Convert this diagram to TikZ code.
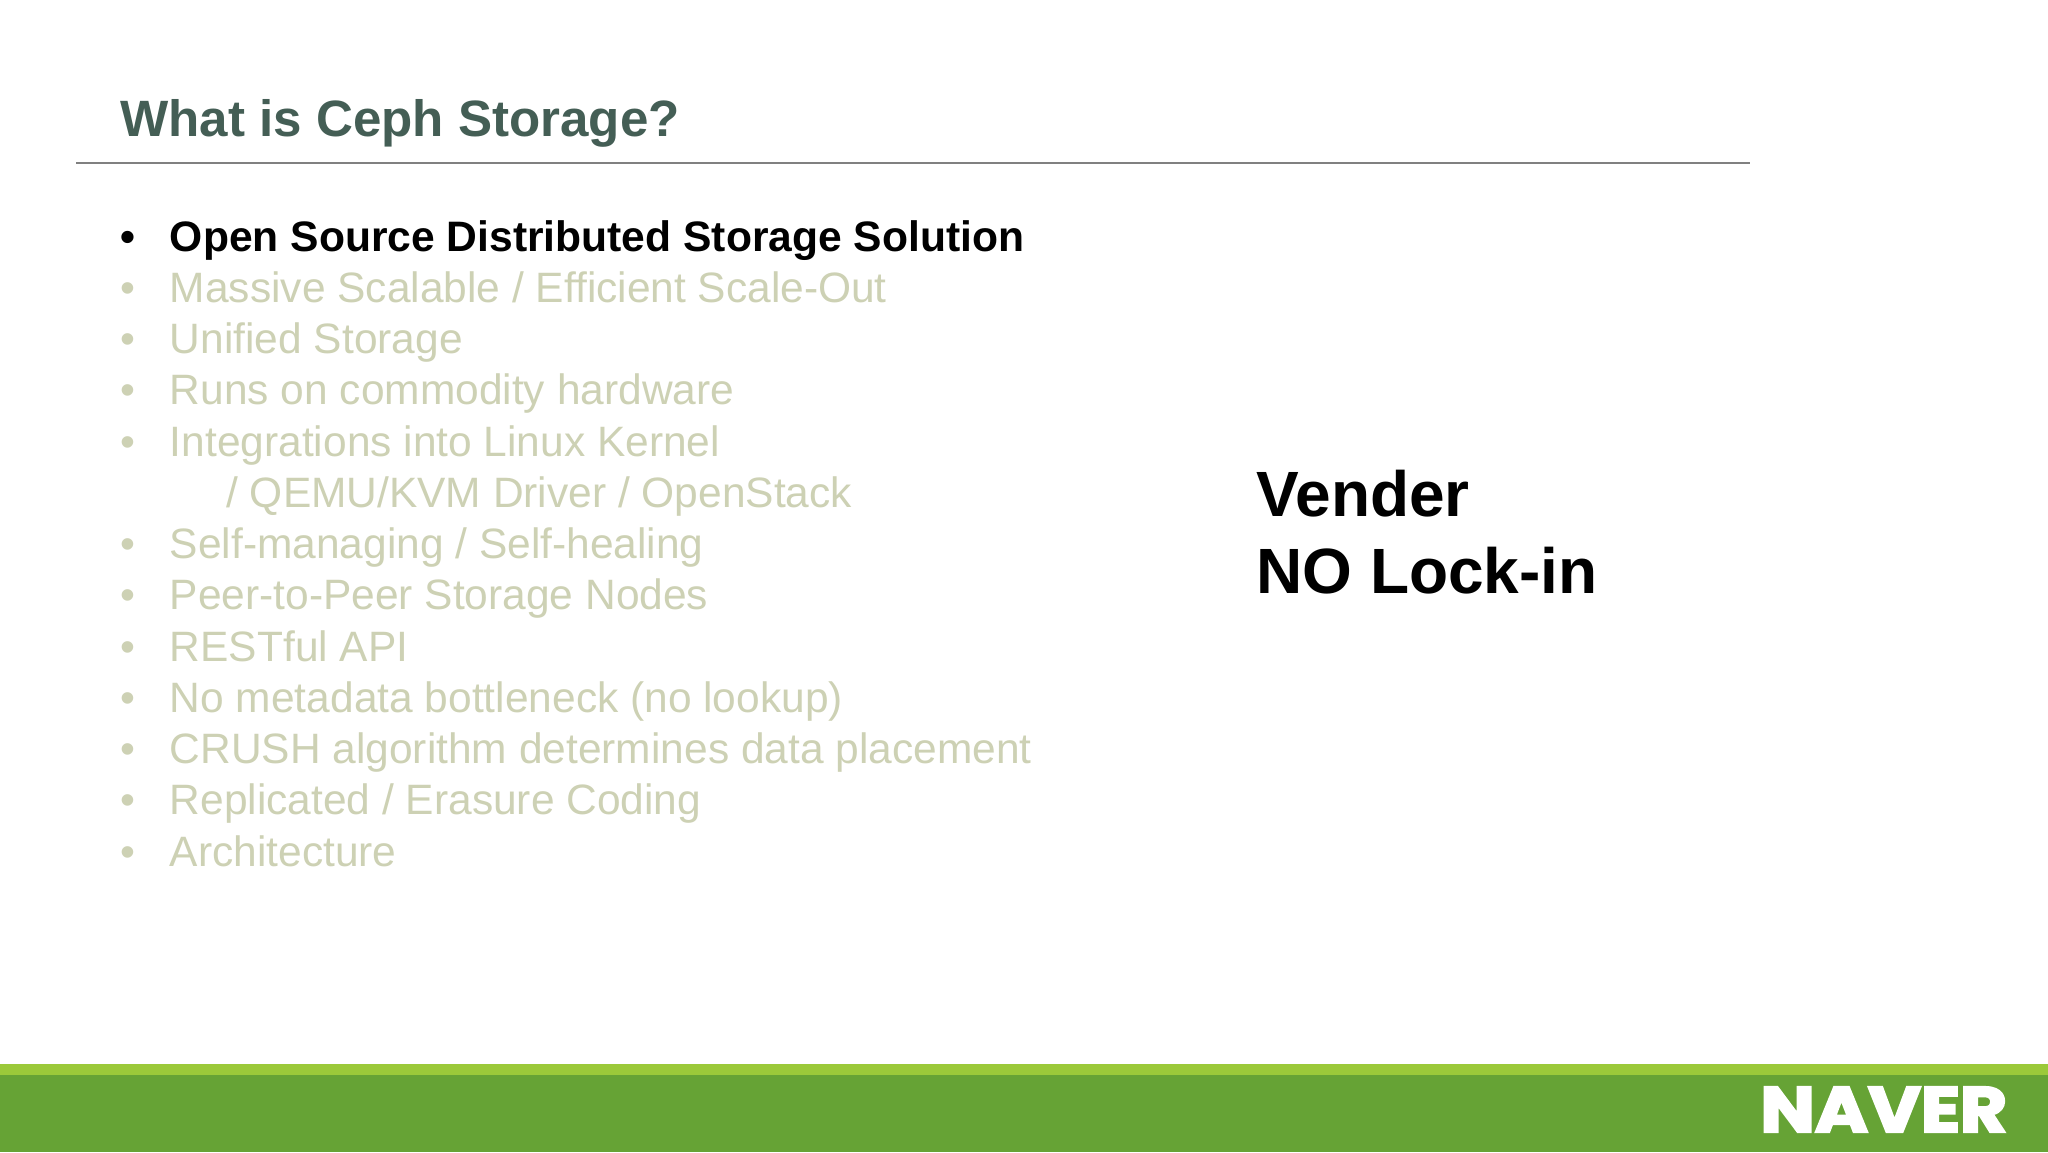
\documentclass[tikz,border=0pt]{standalone}
\usepackage{fontspec}
\setmainfont{Liberation Sans}
\newfontfamily\logofont[FakeBold=3.5]{Poppins}
\definecolor{titlecol}{HTML}{445E55}
\definecolor{fadecol}{HTML}{CDD1B4}
\definecolor{rulecol}{HTML}{808080}
\definecolor{barlight}{HTML}{9BC93A}
\definecolor{bardark}{HTML}{66A335}
\tikzset{
  txt/.style={inner sep=0pt,anchor=base west},
  titletxt/.style={txt,font=\fontsize{25.55pt}{30pt}\selectfont\bfseries,text=titlecol},
  item/.style={txt,font=\fontsize{21.24pt}{24pt}\selectfont,text=fadecol},
  hot/.style={txt,font=\fontsize{21.3pt}{24pt}\selectfont\bfseries,text=black},
  big/.style={txt,font=\fontsize{32pt}{38pt}\selectfont\bfseries,text=black},
}
\begin{document}
\begin{tikzpicture}[x=0.5pt,y=-0.5pt]
\useasboundingbox (0,0) rectangle (2048,1152);
\fill[white] (0,0) rectangle (2048,1152);
\fill[bardark] (0,1075) rectangle (2048,1152);
\fill[barlight] (0,1064) rectangle (2048,1075);
\coordinate (ruleL) at (76,163);
\coordinate (ruleR) at (1750,163);
\draw[rulecol,line width=1pt] (ruleL) -- (ruleR);
\node[titletxt] (title) at (120,136.5) {What is Ceph Storage?};
\node[hot] (b1) at (120.5,251) {•};
\node[hot] (t1) at (169.5,251) {Open Source Distributed Storage Solution};
\foreach \n/\yy/\tx in {
 2/302.2/{Massive Scalable / Efficient Scale-Out},
 3/353.4/{Unified Storage},
 4/404.7/{Runs on commodity hardware},
 5/456.0/{Integrations into Linux Kernel},
 7/558.5/{Self-managing / Self-healing},
 8/609.8/{Peer-to-Peer Storage Nodes},
 9/661.1/{RESTful API},
 10/712.3/{No metadata bottleneck (no lookup)},
 11/763.6/{CRUSH algorithm determines data placement},
 12/814.9/{Replicated / Erasure Coding},
 13/866.1/{Architecture}}{
  \node[item] (b\n) at (120.5,\yy) {•};
  \node[item] (t\n) at (169.5,\yy) {\tx};
}
\node[item] (t6) at (226,507.3) {/ QEMU/KVM Driver / OpenStack};
\node[big] (v1) at (1256,516) {Vender};
\node[big] (v2) at (1256,593) {NO Lock-in};
\node[inner sep=0pt,anchor=base west,text=white,font=\fontsize{32pt}{36pt}\logofont\bfseries] (logo) at (1760,1132) {\scalebox{1.13}[1]{NAVER}};
\end{tikzpicture}
\end{document}
